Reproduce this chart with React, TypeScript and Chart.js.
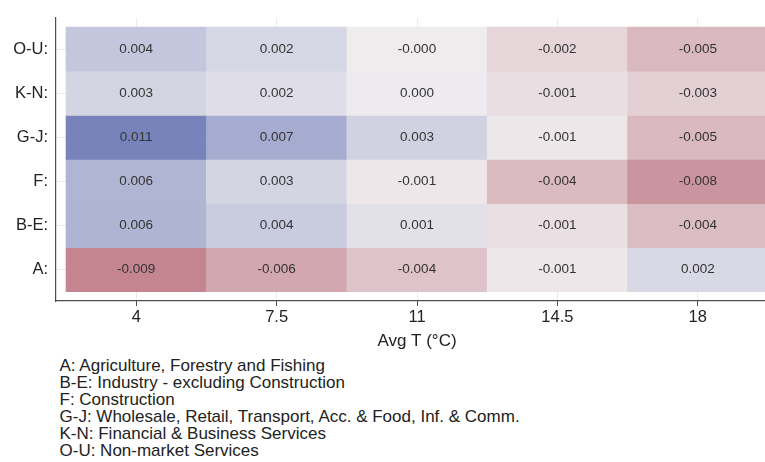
import { useEffect, useRef } from "react"
import { Chart, registerables } from "chart.js"

Chart.register(...registerables)

const FONT = "'Liberation Sans', Arial, Helvetica, sans-serif"

// columns of the heat map (average temperature, °C)
const temps = [4, 7.5, 11, 14.5, 18]
// rows, bottom to top
const sectors = ["A:", "B-E:", "F:", "G-J:", "K-N:", "O-U:"]

// one array per sector, one value per temperature column
const valuesA = [-0.009, -0.0061, -0.0036, -0.0006, 0.0022]
const valuesBE = [0.006, 0.0036, 0.0013, -0.0013, -0.0042]
const valuesF = [0.0059, 0.0026, -0.0006, -0.0044, -0.0076]
const valuesGJ = [0.011, 0.0068, 0.0029, -0.0006, -0.0046]
const valuesKN = [0.0026, 0.0016, 0.0003, -0.0014, -0.0026]
const valuesOU = [0.0041, 0.0024, -0.0002, -0.0021, -0.0046]

const sectorNames = [
  "A: Agriculture, Forestry and Fishing",
  "B-E: Industry - excluding Construction",
  "F: Construction",
  "G-J: Wholesale, Retail, Transport, Acc. & Food, Inf. & Comm.",
  "K-N: Financial & Business Services",
  "O-U: Non-market Services",
]

const rows = [valuesA, valuesBE, valuesF, valuesGJ, valuesKN, valuesOU]

// diverging scale: red for negative, blue for positive
function cellColor(v: number) {
  const mid = [240, 238, 240]
  const end = v >= 0 ? [120, 131, 187] : [196, 133, 145]
  const t = Math.min(1, Math.abs(v) / (v >= 0 ? 0.011 : 0.009))
  const c = mid.map((m, i) => Math.round(m + (end[i] - m) * t))
  return `rgb(${c[0]}, ${c[1]}, ${c[2]})`
}

const cellLabels = {
  id: "cellLabels",
  afterDatasetsDraw(chart: any) {
    const { ctx } = chart
    const meta = chart.getDatasetMeta(0)
    const data = chart.data.datasets[0].data as any[]
    ctx.save()
    ctx.font = `13.5px ${FONT}`
    ctx.fillStyle = "#333333"
    ctx.textAlign = "center"
    ctx.textBaseline = "middle"
    meta.data.forEach((el: any, i: number) => {
      ctx.fillText(data[i].v.toFixed(3), el.x, (el.y + el.base) / 2)
    })
    ctx.restore()
  },
}

function HeatMap() {
  const chartRef = useRef<HTMLCanvasElement>(null)
  const chartInstance = useRef<Chart | null>(null)

  useEffect(() => {
    if (!chartRef.current) return
    if (chartInstance.current) chartInstance.current.destroy()

    const cells = rows.flatMap((row, r) =>
      row.map((v, c) => ({ x: temps[c], y: [r - 0.5, r + 0.5], v }))
    )

    chartInstance.current = new Chart(chartRef.current, {
      type: "bar",
      data: {
        datasets: [
          {
            data: cells as any,
            backgroundColor: cells.map((c) => cellColor(c.v)),
            borderWidth: 0,
            categoryPercentage: 1,
            barPercentage: 1,
          },
        ],
      },
      options: {
        responsive: true,
        maintainAspectRatio: false,
        animation: false,
        layout: { padding: { top: 8, left: 0, right: 0, bottom: 0 } },
        plugins: {
          legend: { display: false },
          tooltip: { enabled: false },
        },
        scales: {
          x: {
            type: "linear",
            min: 2,
            max: 20,
            offset: false,
            afterBuildTicks: (s: any) => {
              s.ticks = temps.map((v) => ({ value: v }))
            },
            afterFit: (s: any) => {
              s.height = 51
            },
            grid: { color: "#ebebeb", tickColor: "#4d4d4d", tickLength: 5, offset: false },
            border: { color: "#4d4d4d", width: 1.2 },
            ticks: {
              color: "#222222",
              font: { size: 16.5, family: FONT },
              padding: 2,
              maxRotation: 0,
              autoSkip: false,
              callback: (v: any) => String(v),
            },
            title: {
              display: true,
              text: "Avg T (°C)",
              color: "#222222",
              font: { size: 17, family: FONT },
              padding: 0,
            },
          },
          y: {
            type: "linear",
            min: -0.71,
            max: 5.71,
            afterBuildTicks: (s: any) => {
              s.ticks = sectors.map((_, i) => ({ value: i }))
            },
            afterFit: (s: any) => {
              s.width = 56
            },
            grid: { color: "#ebebeb", drawTicks: false },
            border: { color: "#4d4d4d", width: 1.2 },
            ticks: {
              color: "#222222",
              font: { size: 16.5, family: FONT },
              padding: 8,
              callback: (v: any) => sectors[v] ?? "",
            },
          },
        },
      },
      plugins: [cellLabels],
    })

    return () => {
      if (chartInstance.current) {
        chartInstance.current.destroy()
        chartInstance.current = null
      }
    }
  }, [])

  return <canvas ref={chartRef} />
}

export default function App() {
  return (
    <div
      style={{
        position: "fixed",
        left: 0,
        top: 0,
        width: 765,
        height: 462,
        overflow: "hidden",
        background: "#ffffff",
      }}
    >
      <div style={{ position: "absolute", left: 0, top: 0, width: 778, height: 352 }}>
        <HeatMap />
      </div>
      <div
        style={{
          position: "absolute",
          left: 59.5,
          top: 356.5,
          fontFamily: FONT,
          fontSize: 17,
          lineHeight: "17px",
          color: "#222222",
          whiteSpace: "nowrap",
        }}
      >
        {sectorNames.map((s) => (
          <div key={s}>{s}</div>
        ))}
      </div>
    </div>
  )
}
